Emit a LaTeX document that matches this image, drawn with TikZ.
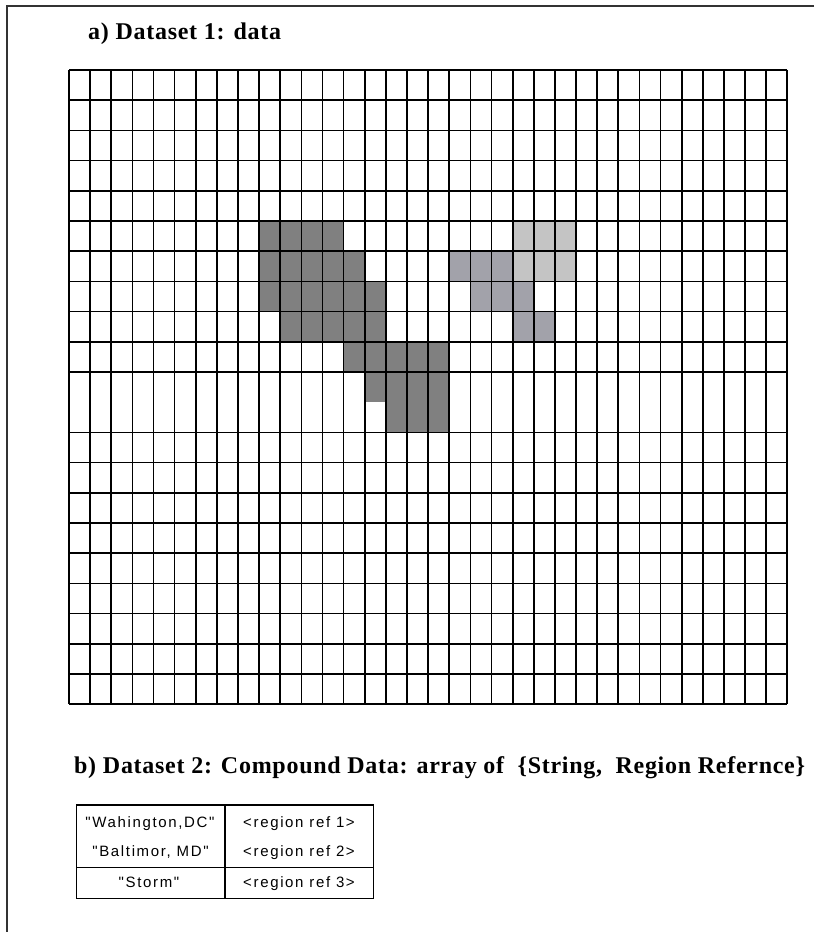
\documentclass[tikz,border=0pt]{standalone}
\usepackage{fontspec}
\setmainfont{Liberation Serif}
\newfontfamily\titlefont[LetterSpace=3]{Liberation Serif}
\newfontfamily\tabfont[LetterSpace=11]{Liberation Sans}
\definecolor{cdark}{HTML}{808080}
\definecolor{cmed}{HTML}{A2A2AA}
\definecolor{clight}{HTML}{C4C4C4}
\begin{document}
\begin{tikzpicture}[x=1pt,y=-1pt,
  gridline/.style={line width=1.7pt,black},
  framel/.style={line width=1.8pt,black!80},
  tabline/.style={line width=1.4pt,black},
  titletext/.style={anchor=base west,inner sep=0pt,font=\titlefont\bfseries\fontsize{24pt}{26pt}\selectfont},
  celltext/.style={anchor=base,inner sep=0pt,font=\tabfont\fontsize{15pt}{17pt}\selectfont}]
\useasboundingbox (0,0) rectangle (814,941);
\pgfmathsetmacro{\cw}{21.126}
\pgfmathsetmacro{\rh}{30.2}
% frame
\draw[framel] (814,5.7) -- (7.3,5.7) -- (7.3,932);
% titles
\node[titletext] (ta) at (88,39.5) {a) Dataset 1: data};
\node[titletext] (tb) at (74,773) {b) Dataset 2: Compound Data: array of\ \ \{String,\ \ Region Refernce\}};
% shaded cells
\newcommand{\fillcells}[4]{% row, from col, to col, colour
  \foreach \c in {#2,...,#3}{
    \fill[#4] ({69+\c*\cw},{70+#1*\rh}) rectangle ({69+(\c+1)*\cw},{70+(#1+1)*\rh});
  }}
\fillcells{5}{9}{12}{cdark}
\fillcells{6}{9}{13}{cdark}
\fillcells{7}{9}{14}{cdark}
\fillcells{8}{10}{14}{cdark}
\fillcells{9}{13}{17}{cdark}
\fillcells{10}{14}{17}{cdark}
\fillcells{11}{15}{17}{cdark}
\fillcells{6}{18}{20}{cmed}
\fillcells{7}{19}{21}{cmed}
\fillcells{8}{21}{22}{cmed}
\fillcells{5}{21}{23}{clight}
\fillcells{6}{21}{23}{clight}
% grid lines
\foreach \i in {0,...,34}{
  \draw[gridline] ({69+\i*\cw},70) -- ({69+\i*\cw},{70+21*\rh});
}
\foreach \k in {0,...,10,12,13,...,21}{
  \draw[gridline] (69,{70+\k*\rh}) -- ({69+34*\cw},{70+\k*\rh});
}
% table
\draw[tabline] (76.7,805) rectangle (373.3,898.3);
\draw[tabline] (225,805) -- (225,898.3);
\draw[tabline] (76.7,867.3) -- (373.3,867.3);
\node[celltext] (s1) at (150,827) {"Wahington,DC"};
\node[celltext] (s2) at (150.5,856.5) {"Baltimor, MD"};
\node[celltext] (s3) at (149,887.5) {"Storm"};
\node[celltext] (r1) at (299,827) {<region ref 1>};
\node[celltext] (r2) at (299,856.5) {<region ref 2>};
\node[celltext] (r3) at (299,887.5) {<region ref 3>};
\end{tikzpicture}
\end{document}
